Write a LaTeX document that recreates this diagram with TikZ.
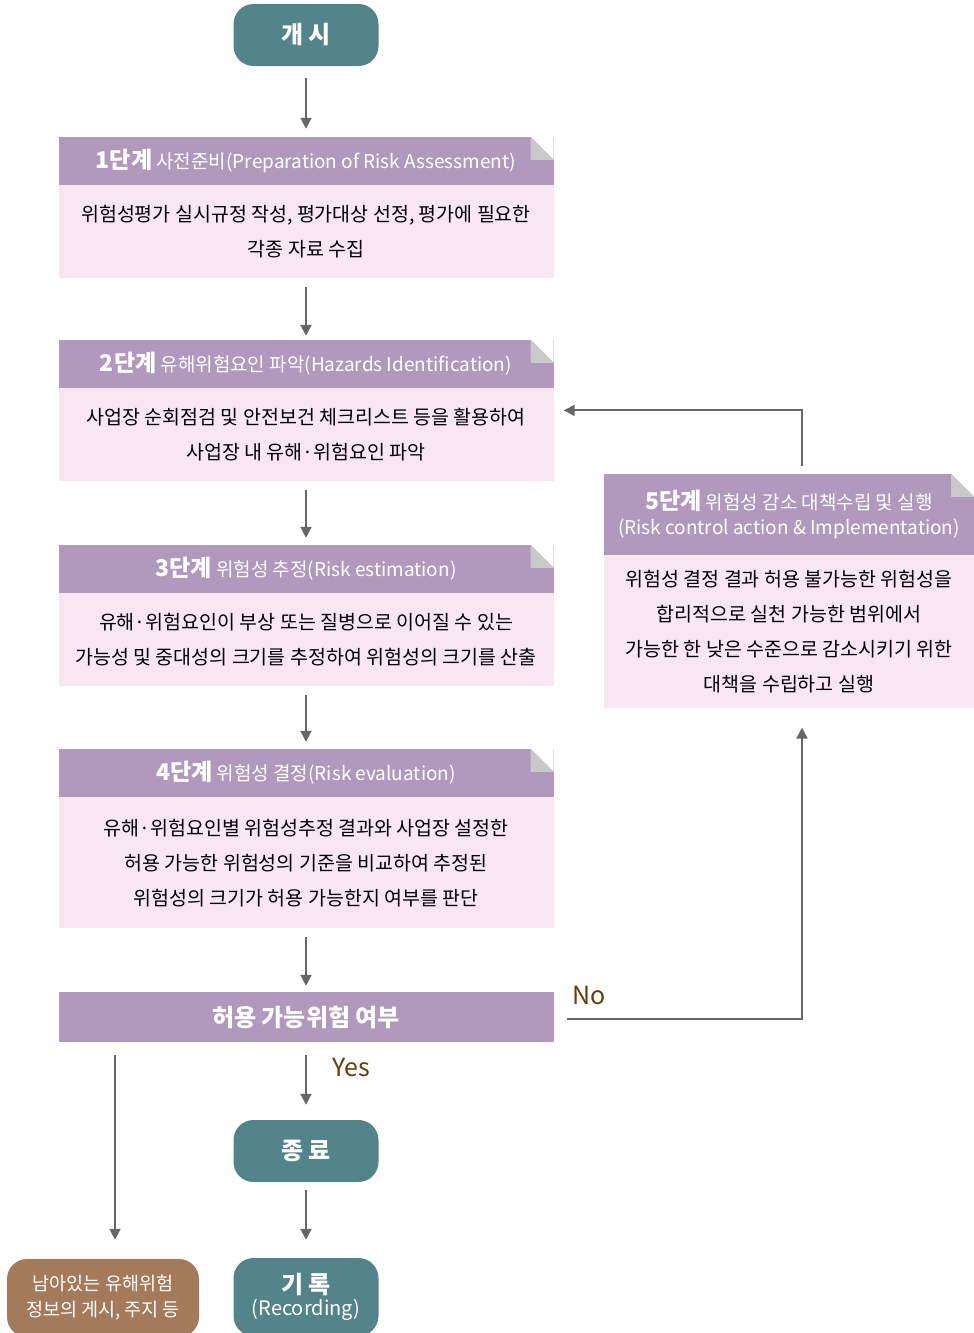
\documentclass[tikz,border=0pt]{standalone}
\usepackage{fontspec}
\setmainfont{Noto Sans CJK KR}
\usetikzlibrary{positioning}
\usetikzlibrary{arrows.meta}
\definecolor{TealBox}{HTML}{53848A}
\definecolor{LavHead}{HTML}{B199BE}
\definecolor{PinkBody}{HTML}{F8E7F1}
\definecolor{FoldGray}{HTML}{C9C9C9}
\definecolor{FlowGray}{HTML}{666666}
\definecolor{BrownBox}{HTML}{A37B5A}
\definecolor{BrownText}{HTML}{6B3A0A}
\newcommand{\stepno}[1]{{\fontsize{23}{25}\selectfont\bfseries #1}}
\begin{document}
\begin{tikzpicture}[x=1pt, y=-1pt,
		>={Triangle[length=11pt, width=11pt]},
		terminal/.style={fill=TealBox, text=white, rounded corners=20pt,
			minimum width=145pt, minimum height=62pt, inner sep=0pt, align=center,
			font=\fontsize{24}{26}\selectfont\bfseries},
		stephead/.style={fill=LavHead, text=white, minimum width=495pt,
			minimum height=48pt, inner sep=0pt, align=center,
			font=\fontsize{19}{25}\selectfont},
		stepbody/.style={fill=PinkBody, minimum width=495pt, minimum height=93pt,
			inner sep=0pt, align=center, font=\fontsize{19.5}{35}\selectfont},
		flow/.style={draw=FlowGray, line width=2pt, ->, shorten <=8pt, shorten >=8pt},
		answer/.style={text=BrownText, font=\fontsize{25}{26}\selectfont}
	]
	\useasboundingbox (0,0) rectangle (974,1333);
	
	% start
	\node[terminal] (start) at (306,35) {개 시};
	
	% steps 1-4
	\node[stephead] (s1h) at (306,161) {\stepno{1단계} 사전준비(Preparation of Risk Assessment)};
	\node[stepbody, below=0pt of s1h] (s1b) {위험성평가 실시규정 작성, 평가대상 선정, 평가에 필요한\\각종 자료 수집};
	
	\node[stephead] (s2h) at (306,364) {\stepno{2단계} 유해위험요인 파악(Hazards Identification)};
	\node[stepbody, below=0pt of s2h] (s2b) {사업장 순회점검 및 안전보건 체크리스트 등을 활용하여\\사업장 내 유해·위험요인 파악};
	
	\node[stephead] (s3h) at (306,569) {\stepno{3단계} 위험성 추정(Risk estimation)};
	\node[stepbody, below=0pt of s3h] (s3b) {유해·위험요인이 부상 또는 질병으로 이어질 수 있는\\가능성 및 중대성의 크기를 추정하여 위험성의 크기를 산출};
	
	\node[stephead] (s4h) at (306,773) {\stepno{4단계} 위험성 결정(Risk evaluation)};
	\node[stepbody, below=0pt of s4h, minimum height=131pt] (s4b) {유해·위험요인별 위험성추정 결과와 사업장 설정한\\허용 가능한 위험성의 기준을 비교하여 추정된\\위험성의 크기가 허용 가능한지 여부를 판단};
	
	% step 5
	\node[stephead, minimum width=370pt, minimum height=81pt] (s5h) at (789,514.5) {\stepno{5단계} 위험성 감소 대책수립 및 실행\\(Risk control action \& Implementation)};
	\node[stepbody, below=0pt of s5h, minimum width=370pt, minimum height=153pt] (s5b) {위험성 결정 결과 허용 불가능한 위험성을\\합리적으로 실천 가능한 범위에서\\가능한 한 낮은 수준으로 감소시키기 위한\\대책을 수립하고 실행};
	
	% folded corners
	\foreach \s in {s1h,s2h,s3h,s4h,s5h} {
		\fill[white] ([xshift=-23pt]\s.north east) -- (\s.north east) -- ([yshift=-23pt]\s.north east) -- cycle;
		\fill[FoldGray] ([xshift=-23pt]\s.north east) -- ([yshift=-23pt]\s.north east) -- ([xshift=-23pt, yshift=-23pt]\s.north east) -- cycle;
	}
	
	% decision
	\node[stephead, font=\fontsize{24}{26}\selectfont\bfseries, minimum height=50pt] (dec) at (306,1017) {허용 가능위험 여부};
	
	% end nodes
	\node[terminal] (end) at (306,1151) {종 료};
	\node[terminal, minimum height=78pt] (rec) at (306,1297) {기 록\\[-4pt]{\fontsize{20}{22}\selectfont\mdseries (Recording)}};
	\node[terminal, fill=BrownBox, minimum width=192pt, minimum height=78pt,
		font=\fontsize{18.5}{26}\selectfont] (rest) at (103,1298) {남아있는 유해위험\\정보의 게시, 주지 등};
	
	% main flow
	\draw[flow, shorten <=12pt] (start) -- (s1h);
	\draw[flow, shorten >=4pt] (s1b) -- (s2h);
	\draw[flow, shorten >=7pt] (s2b) -- (s3h);
	\draw[flow, shorten >=7pt] (s3b) -- (s4h);
	\draw[flow, shorten >=6pt] (s4b) -- (dec);
	\draw[flow, shorten <=13pt, shorten >=15pt] (dec) -- (end) node[answer, pos=0.33, right=22pt] {Yes};
	\draw[flow, shorten >=18pt] (end) -- (rec);
	\draw[flow, shorten <=13pt, shorten >=19pt] ([xshift=12pt]rest.north |- dec.south) -- ([xshift=12pt]rest.north);
	
	% no branch and feedback
	\draw[flow, shorten <=13pt, shorten >=19pt] ([yshift=-2pt]dec.east) -| ([xshift=13pt]s5b.south)
		node[answer, pos=0, above right=10pt and 14pt] {No};
	\draw[flow, shorten >=10pt] ([xshift=13pt]s5h.north) |- ([yshift=24.5pt]s2b.east);
\end{tikzpicture}
\end{document}
